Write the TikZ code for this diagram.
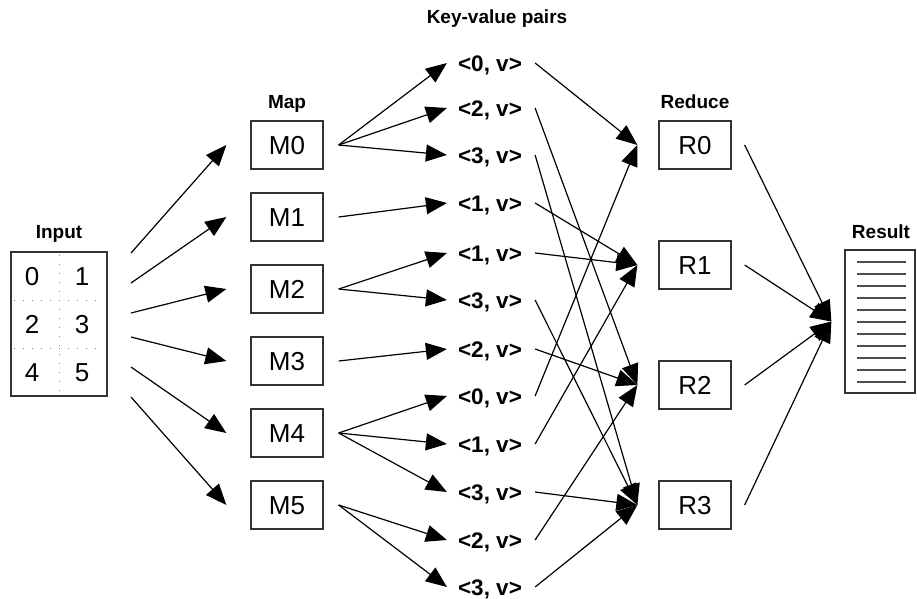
\documentclass[tikz,border=0pt]{standalone}
\usepackage{fontspec}
\setmainfont{Liberation Sans}
\usetikzlibrary{arrows.meta,calc}
\begin{document}
\begin{tikzpicture}[x=1pt,y=-1pt,
  box/.style={draw=black!80, line width=1.3pt, minimum width=72pt, minimum height=48pt, inner sep=0pt, font=\fontsize{26}{26}\selectfont, text height=18.6pt, text depth=0pt},
  digit/.style={inner sep=0pt, font=\fontsize{26}{26}\selectfont, text height=18.6pt, text depth=0pt},
  kv/.style={inner sep=0pt, font=\bfseries\fontsize{22.5}{22.5}\selectfont, text height=16pt, text depth=0pt},
  head/.style={inner sep=0pt, font=\bfseries\fontsize{19}{19}\selectfont, text height=14pt, text depth=4pt},
  arr/.style={line width=1.2pt, -{Triangle[length=21pt,width=17pt]}},
  dotline/.style={gray, line width=1pt, dash pattern=on 1pt off 8pt},
]
\useasboundingbox (0,0) rectangle (917,598);

% headers
\node[head] (hin) at (59,233) {Input};
\node[head] (hmap) at (287,103) {Map};
\node[head] (hkv) at (497,18) {Key-value pairs};
\node[head] (hred) at (695,103) {Reduce};
\node[head] (hres) at (881,233) {Result};

% input box
\node[draw=black!80, line width=1.3pt, minimum width=96pt, minimum height=144pt, inner sep=0pt] (in) at (59,324) {};
\draw[dotline] ([yshift=-4pt]in.north) -- ([yshift=4pt]in.south);
\draw[dotline] ($(in.west)+(4,-24)$) -- ($(in.east)+(-4,-24)$);
\draw[dotline] ($(in.west)+(4,24)$) -- ($(in.east)+(-4,24)$);
\node[digit] (d0) at (32,276) {0};
\node[digit] (d1) at (82,276) {1};
\node[digit] (d2) at (32,324) {2};
\node[digit] (d3) at (82,324) {3};
\node[digit] (d4) at (32,372) {4};
\node[digit] (d5) at (82,372) {5};

% map boxes
\node[box] (M0) at (287,145) {M0};
\node[box] (M1) at (287,217) {M1};
\node[box] (M2) at (287,289) {M2};
\node[box] (M3) at (287,361) {M3};
\node[box] (M4) at (287,433) {M4};
\node[box] (M5) at (287,505) {M5};

% key-value labels
\node[kv] (k0) at (490,63) {<0, v>};
\node[kv] (k1) at (490,108) {<2, v>};
\node[kv] (k2) at (490,155) {<3, v>};
\node[kv] (k3) at (490,203) {<1, v>};
\node[kv] (k4) at (490,253) {<1, v>};
\node[kv] (k5) at (490,300) {<3, v>};
\node[kv] (k6) at (490,349) {<2, v>};
\node[kv] (k7) at (490,396) {<0, v>};
\node[kv] (k8) at (490,444) {<1, v>};
\node[kv] (k9) at (490,492) {<3, v>};
\node[kv] (k10) at (490,540) {<2, v>};
\node[kv] (k11) at (490,587) {<3, v>};

% reduce boxes
\node[box] (R0) at (695,145) {R0};
\node[box] (R1) at (695,265) {R1};
\node[box] (R2) at (695,385) {R2};
\node[box] (R3) at (695,505) {R3};

% result box
\node[draw=black!80, line width=1.3pt, minimum width=70pt, minimum height=143pt, inner sep=0pt] (res) at (880,321.5) {};
\foreach \i in {0,...,10}
  \draw[black!70, line width=1.1pt] (857,262+12*\i) -- (906,262+12*\i);

% input -> map
\coordinate (i0) at (131,253);
\coordinate (i1) at (131,283);
\coordinate (i2) at (131,313);
\coordinate (i3) at (131,337);
\coordinate (i4) at (131,367);
\coordinate (i5) at (131,397);
\foreach \n in {0,...,5}
  \draw[arr] (i\n) -- ([xshift=-24pt]M\n.west);

% map -> key-value
\foreach \m/\k in {0/0,0/1,0/2,1/3,2/4,2/5,3/6,4/7,4/8,4/9,5/10,5/11}
  \draw[arr] ([xshift=15pt]M\m.east) -- ([xshift=-11pt]k\k.west);

% key-value -> reduce
\foreach \k/\r in {0/0,1/2,2/3,3/1,4/1,5/3,6/2,7/0,8/1,9/3,10/2,11/3}
  \draw[arr] ([xshift=13pt]k\k.east) -- ([xshift=-21pt]R\r.west);

% reduce -> result
\foreach \r in {0,...,3}
  \draw[arr] ([xshift=13pt]R\r.east) -- ([xshift=-13pt]res.west);
\end{tikzpicture}
\end{document}
